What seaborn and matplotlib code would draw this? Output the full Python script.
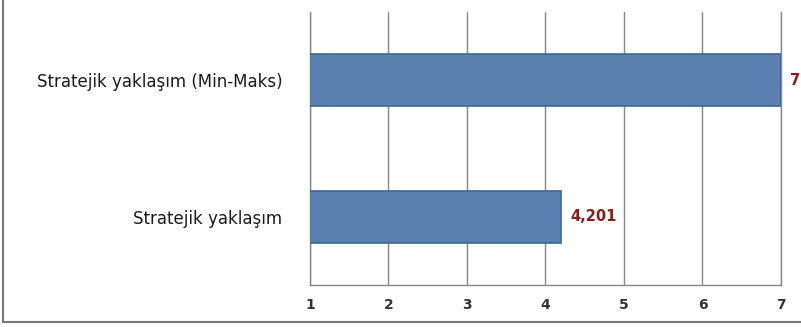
import pandas as pd
import matplotlib.pyplot as plt
import matplotlib.transforms as mtransforms
import seaborn as sns

categories = ['Stratejik yaklaşım (Min-Maks)', 'Stratejik yaklaşım']
values = [7.0, 4.201]
value_labels = ['7', '4,201']
x_ticks = [1, 2, 3, 4, 5, 6, 7]

df = pd.DataFrame({'yaklasim': categories, 'deger': values})

sns.set_style('white')
plt.rcParams['font.family'] = ['DejaVu Sans']

fig = plt.figure(figsize=(8.01, 3.27), dpi=100)
ax = fig.add_axes([0.387, 0.128, 0.588, 0.835])

sns.barplot(data=df, x='deger', y='yaklasim', orient='h', width=0.38,
            color='#5b80b0', edgecolor='#3d6798', linewidth=1.2, saturation=1,
            ax=ax, zorder=3)

ax.set_xlim(1, 7)
ax.set_ylim(1.5, -0.5)
ax.set_xticks(x_ticks)
ax.set_xticklabels([str(t) for t in x_ticks], fontsize=10, fontweight='bold', color='#333333')
ax.set_xlabel('')
ax.set_ylabel('')
ax.tick_params(axis='y', length=0, pad=20, labelsize=12, labelcolor='#1a1a1a')
ax.set_yticks([-0.5, 0.5, 1.5], minor=True)
ax.tick_params(axis='y', which='minor', length=6, color='#888888', direction='out')
ax.tick_params(axis='x', length=5, color='#888888', direction='out', pad=4)

ax.grid(axis='x', color='#888888', linewidth=1, zorder=0)
ax.set_axisbelow(True)
ax.spines['top'].set_visible(False)
for side in ['left', 'bottom', 'right']:
    ax.spines[side].set_color('#888888')
    ax.spines[side].set_linewidth(1)

offset = mtransforms.offset_copy(ax.transData, fig=fig, x=9, y=0, units='dots')
for i, (v, lab) in enumerate(zip(values, value_labels)):
    ax.text(v, i, lab, transform=offset, color='#8b1a1a', fontsize=10.5,
            fontweight='bold', va='center', ha='left', clip_on=False)

# chart border (left and bottom visible in the crop)
fig.add_artist(plt.Line2D([0.004, 0.004], [0.015, 1.0], transform=fig.transFigure,
                          color='#777777', linewidth=1.5))
fig.add_artist(plt.Line2D([0.004, 1.0], [0.015, 0.015], transform=fig.transFigure,
                          color='#777777', linewidth=1.5))

fig.savefig('out.png', dpi=100)
